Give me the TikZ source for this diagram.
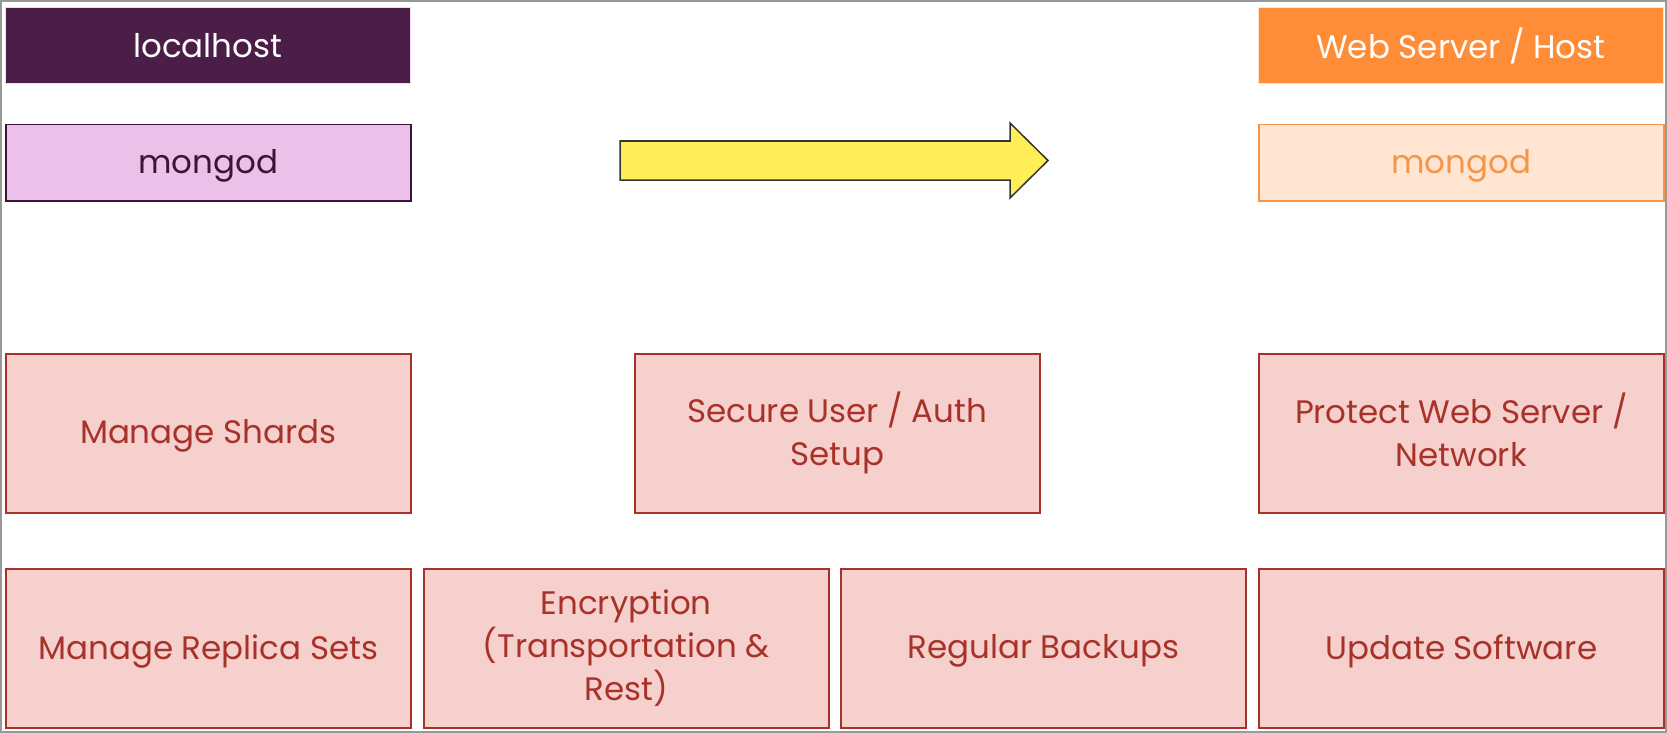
\documentclass[tikz,border=0pt]{standalone}
\usepackage{fontspec}
\setmainfont{Poppins}
\usetikzlibrary{positioning}
\definecolor{lhfill}{HTML}{4B1E47}
\definecolor{mgfill}{HTML}{EBC1EA}
\definecolor{mgdraw}{HTML}{3D1439}
\definecolor{wsfill}{HTML}{FF8C37}
\definecolor{mrfill}{HTML}{FFE5D2}
\definecolor{mrdraw}{HTML}{F4964A}
\definecolor{pkfill}{HTML}{F5D0CC}
\definecolor{pkdraw}{HTML}{A8322A}
\definecolor{arfill}{HTML}{FFEE58}
\newcommand{\mydn}[1]{\raisebox{-3pt}[\height][\depth]{#1}}
\newcommand{\myup}[1]{\raisebox{3pt}[\height][\depth]{#1}}
\tikzset{
  x=1pt, y=-1pt,
  base/.style={anchor=north west, inner sep=0pt, align=center, font=\fontsize{32.5}{43}\selectfont, line width=1.5pt},
  hostbox/.style={base, minimum width=405pt, minimum height=76pt},
  pinkbox/.style={base, fill=pkfill, draw=pkdraw, text=pkdraw, minimum width=405pt, minimum height=159pt},
}
\begin{document}
\begin{tikzpicture}
\useasboundingbox (0,0) rectangle (1667,733);
\draw[gray!80, line width=2.5pt] (1,1) rectangle (1666,732);
\node[hostbox, fill=lhfill, draw=mgfill!60, line width=0.8pt, text=white] (lh) at (5,7.5) {localhost};
\node[hostbox, fill=mgfill, draw=mgdraw, text=mgdraw] (mgl) at (5,124) {\mydn{mongod}};
\node[hostbox, fill=wsfill, draw=mrfill, line width=0.8pt, text=white] (ws) at (1258,7.5) {Web Server / Host};
\node[hostbox, fill=mrfill, draw=mrdraw, text=mrdraw] (mgr) at (1258,124) {\mydn{mongod}};
\draw[fill=arfill, draw=black!80, line width=1.5pt]
  (620,141) -- (1010,141) -- (1010,123) -- (1048,160.5) -- (1010,198) -- (1010,180) -- (620,180) -- cycle;
\node[pinkbox] (shards) at (5,353) {\mydn{Manage Shards}};
\node[pinkbox] (secure) at (634,353) {Secure User / Auth\\Setup};
\node[pinkbox] (protect) at (1258,353) {\myup{Protect Web Server /}\\\myup{Network}};
\node[pinkbox] (replica) at (5,568) {\mydn{Manage Replica Sets}};
\node[pinkbox] (enc) at (423,568) {Encryption\\(Transportation \&\\Rest)};
\node[pinkbox] (backup) at (840,568) {\mydn{Regular Backups}};
\node[pinkbox] (update) at (1258,568) {\mydn{Update Software}};
\end{tikzpicture}
\end{document}
